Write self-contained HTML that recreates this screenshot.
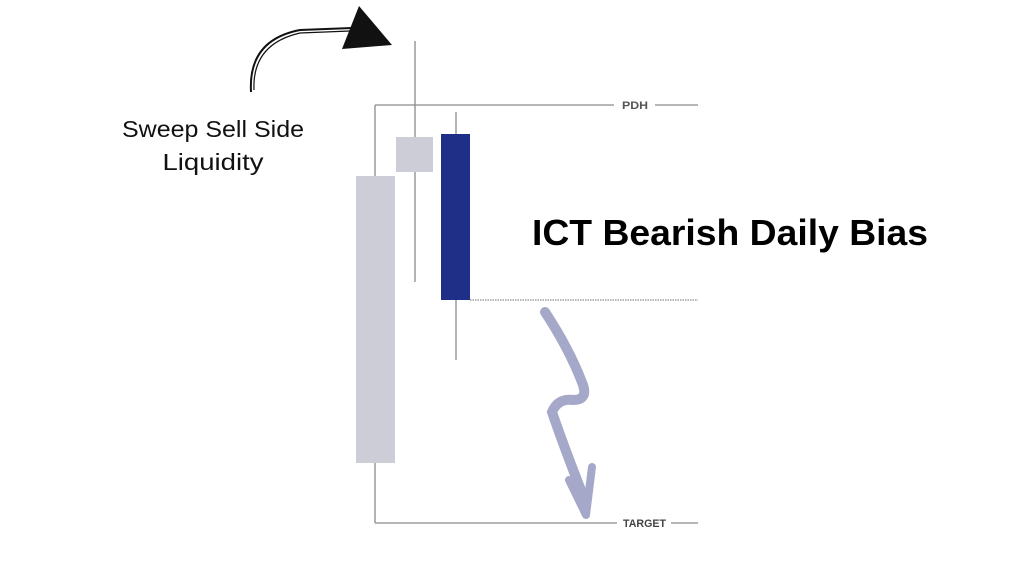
<!DOCTYPE html>
<html><head><meta charset="utf-8"><style>html,body{margin:0;padding:0;background:#fff;width:1024px;height:576px;overflow:hidden}</style></head>
<body>
<svg width="1024" height="576" viewBox="0 0 1024 576" xmlns="http://www.w3.org/2000/svg">
<rect width="1024" height="576" fill="#fff"/>
<g stroke="#8a8a8e" stroke-width="1.3" fill="none">
<line x1="375" y1="105" x2="375" y2="523"/>
<line x1="375" y1="105" x2="614" y2="105"/>
<line x1="655" y1="105" x2="698" y2="105"/>
<line x1="375" y1="523" x2="617" y2="523"/>
<line x1="671" y1="523" x2="698" y2="523"/>
<line x1="415" y1="41" x2="415" y2="282"/>
<line x1="456" y1="112" x2="456" y2="360"/>
<line x1="470" y1="300" x2="698" y2="300" stroke-dasharray="1.5,1"/>
</g>
<rect x="356" y="176" width="39" height="287" fill="#cdcdd8"/>
<rect x="396" y="137" width="37" height="35" fill="#cdcdd8"/>
<rect x="441" y="134" width="29" height="166" fill="#1f2e86"/>
<text x="622" y="109" font-family="Liberation Sans, sans-serif" font-size="11" font-weight="bold" fill="#555" textLength="26" lengthAdjust="spacingAndGlyphs">PDH</text>
<text x="623" y="527" font-family="Liberation Sans, sans-serif" font-size="11" font-weight="bold" fill="#444" textLength="43" lengthAdjust="spacingAndGlyphs">TARGET</text>
<path d="M545,312 Q570,350 583,385 Q588,400 573,400 Q558,398 552,412 Q565,450 586,503" stroke="#a5a8c9" stroke-width="10" fill="none" stroke-linecap="round"/>
<path d="M569,480 L586,515 L592,467" stroke="#a5a8c9" stroke-width="8" fill="none" stroke-linecap="round" stroke-linejoin="round"/>
<path d="M251,92 Q248,40 300,30 L352,28" stroke="#111" stroke-width="2" fill="none"/>
<path d="M254,90 Q252,44 300,33 L350,31" stroke="#111" stroke-width="1.2" fill="none"/>
<polygon points="359,6 342,49 392,45" fill="#111"/>
<text x="213" y="137" text-anchor="middle" font-family="Liberation Sans, sans-serif" font-size="23" fill="#111" textLength="182" lengthAdjust="spacingAndGlyphs">Sweep Sell Side</text>
<text x="213" y="170" text-anchor="middle" font-family="Liberation Sans, sans-serif" font-size="23" fill="#111" textLength="101" lengthAdjust="spacingAndGlyphs">Liquidity</text>
<text x="532" y="245" font-family="Liberation Sans, sans-serif" font-size="36" font-weight="bold" fill="#000" textLength="396" lengthAdjust="spacingAndGlyphs">ICT  Bearish Daily Bias</text>
</svg>
</body></html>
